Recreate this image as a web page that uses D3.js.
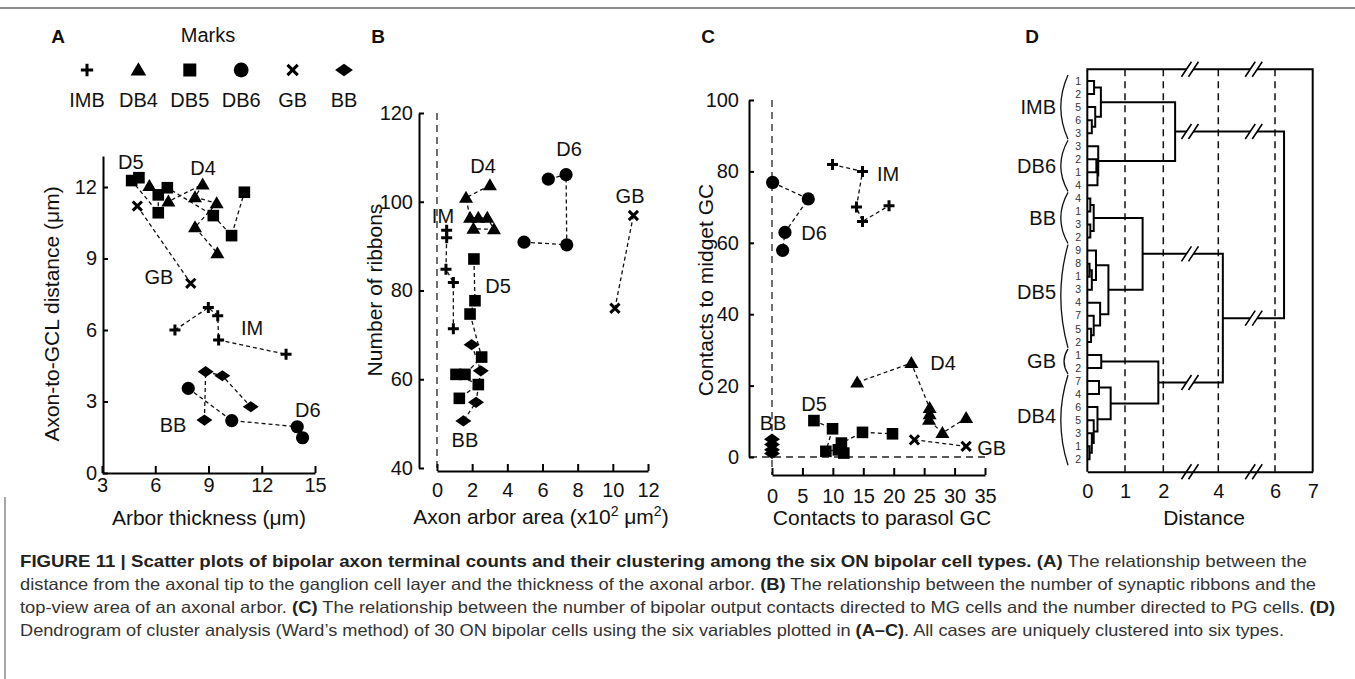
<!DOCTYPE html>
<html><head><meta charset="utf-8">
<script src="https://cdn.jsdelivr.net/npm/d3@7"></script>
<style>
body{margin:0;background:#fff}
svg{display:block}
</style>
</head><body>
<svg id="fig" width="1355" height="679"></svg>
<script>
// ---------------- DATA ----------------
const markTypes  = ["IMB","DB4","DB5","DB6","GB","BB"];
const markShapes = ["plus","triangle","square","circle","cross","diamond"];

// Panel A : arbor thickness (µm) vs axon-to-GCL distance (µm)
const aIMB = [[7.11,6.0],[8.99,6.94],[9.52,6.6],[9.57,5.58],[13.37,4.98]];
const aDB4 = [[5.67,12.04],[6.74,11.39],[8.67,12.11],[8.24,11.57],[9.46,11.32],[8.24,10.31],[9.5,9.22]];
const aDB5 = [[5.08,12.39],[4.67,12.27],[6.17,10.92],[6.17,11.67],[6.68,11.97],[9.27,10.8],[10.3,9.96],[11.02,11.78]];
const aDB6 = [[7.86,3.55],[10.31,2.2],[14.0,1.94],[14.3,1.48]];
const aGB  = [[4.99,11.2],[8.0,7.96]];
const aBB  = [[8.77,2.22],[8.84,4.25],[9.78,4.08],[11.38,2.78]];
const aLabels = [["D5",4.62,13.06],["D4",8.69,12.8],["GB",6.21,8.22],["IM",11.45,6.08],["BB",7.0,2.01],["D6",14.6,2.64]];
const aXTicks = [3,6,9,12,15];
const aYTicks = [0,3,6,9,12];

// Panel B : axon arbor area (x10^2 µm^2) vs number of ribbons
const bIMB = [[0.55,93.6],[0.55,91.9],[0.51,84.8],[0.93,81.8],[0.93,71.4]];
const bDB4 = [[3.01,103.7],[1.65,100.9],[1.88,96.4],[2.35,96.4],[2.86,96.4],[3.24,93.8],[2.07,93.9]];
const bDB5 = [[2.1,87.1],[2.16,77.7],[1.88,74.7],[2.54,65.0],[1.59,61.1],[1.08,61.1],[2.35,58.8],[1.27,55.7]];
const bDB6 = [[4.95,90.9],[7.38,90.3],[7.34,106.1],[6.33,105.1]];
const bGB  = [[11.17,96.9],[10.12,76.0]];
const bBB  = [[1.97,67.8],[2.49,61.9],[2.22,54.8],[1.5,50.6]];
const bLabels = [["D4",2.62,108.1],["D6",7.51,111.9],["GB",10.98,101.4],["IM",0.34,96.9],["D5",3.47,81.0],["BB",1.59,46.3]];
const bXTicks = [0,2,4,6,8,10,12];
const bYTicks = [40,60,80,100,120];

// Panel C : contacts to parasol GC vs contacts to midget GC
const cIMB = [[9.95,81.9],[14.87,80.0],[13.88,70.0],[14.87,66.0],[19.23,70.4]];
const cDB4 = [[14.0,20.9],[22.9,26.3],[25.9,13.7],[25.9,12.0],[25.8,10.4],[28.0,6.7],[31.9,10.9]];
const cDB5 = [[6.89,10.2],[9.95,7.9],[8.85,1.6],[10.9,2.0],[11.8,1.1],[11.4,3.9],[14.87,6.9],[19.8,6.5]];
const cDB6 = [[0.1,76.9],[5.96,72.3],[2.13,62.9],[1.75,57.9]];
const cGB  = [[23.4,4.8],[31.9,3.0]];
const cBB  = [[0,5.0],[0,3.5],[0,2.0],[0,1.0]];
const cLabels = [["IM",19.06,79.4],["D6",6.9,62.8],["D4",28.1,26.4],["D5",6.9,14.9],["BB",0.16,9.6],["GB",36.1,2.6]];
const cXTicks = [0,5,10,15,20,25,30,35];
const cYTicks = [0,20,40,60,80,100];

// Panel D : dendrogram (Ward's method)
const dGroups     = ["IMB","DB6","BB","DB5","GB","DB4"];
const dGroupSizes = [5,4,4,8,2,7];
const dLeafLabels = ["1","2","5","6","3", "3","2","1","4", "4","1","3","2",
                     "9","8","1","3","4","7","5","2", "1","2", "7","4","6","5","3","1","2"];
// merges: [childA, childB, distance]; leaves 0..29, new nodes numbered from 30
const dMerges = [
  [0,1,0.18],[3,4,0.12],[2,31,0.21],[30,32,0.36],
  [6,7,0.24],[34,8,0.27],[5,35,0.29],
  [33,36,2.43],
  [9,10,0.08],[11,12,0.08],[38,39,0.17],
  [14,15,0.06],[41,16,0.12],[13,42,0.23],[19,20,0.10],[18,44,0.17],[17,45,0.34],[43,46,0.56],
  [40,47,1.46],
  [21,22,0.37],
  [23,24,0.31],[28,29,0.06],[27,51,0.12],[26,52,0.17],[25,53,0.27],[50,54,0.62],
  [49,55,1.87],
  [48,56,4.16],
  [37,57,6.24]
];
const dTicks  = [0,1,2,4,6,7];
const dGrid   = [1,2,4,6];
const dBreaks = [2.97,5.25];

const captionLines = [
  [["FIGURE 11 | Scatter plots of bipolar axon terminal counts and their clustering among the six ON bipolar cell types.",1],[" ",0],["(A)",1],[" The relationship between the",0]],
  [["distance from the axonal tip to the ganglion cell layer and the thickness of the axonal arbor. ",0],["(B)",1],[" The relationship between the number of synaptic ribbons and the",0]],
  [["top-view area of an axonal arbor. ",0],["(C)",1],[" The relationship between the number of bipolar output contacts directed to MG cells and the number directed to PG cells. ",0],["(D)",1]],
  [["Dendrogram of cluster analysis (Ward\u2019s method) of 30 ON bipolar cells using the six variables plotted in ",0],["(A\u2013C)",1],[". All cases are uniquely clustered into six types.",0]]
];

// ---------------- DRAWING ----------------
const FONT = "'Liberation Sans', Arial, Helvetica, sans-serif";
const svg = d3.select("#fig");
svg.append("rect").attr("width",1355).attr("height",679).attr("fill","#fff");

function mark(g, shape, x, y, s){
  s = s || 1;
  if (shape === "plus") {
    const a = 5.5*s;
    g.append("path").attr("d",`M${x-a},${y}H${x+a}M${x},${y-a}V${y+a}`).attr("stroke","#000").attr("stroke-width",3);
  } else if (shape === "cross") {
    const a = 4.6*s;
    g.append("path").attr("d",`M${x-a},${y-a}L${x+a},${y+a}M${x-a},${y+a}L${x+a},${y-a}`).attr("stroke","#000").attr("stroke-width",3);
  } else if (shape === "square") {
    const a = 5.8*s;
    g.append("rect").attr("x",x-a).attr("y",y-a).attr("width",2*a).attr("height",2*a).attr("fill","#000");
  } else if (shape === "circle") {
    g.append("circle").attr("cx",x).attr("cy",y).attr("r",6.6*s).attr("fill","#000");
  } else if (shape === "triangle") {
    g.append("path").attr("d",`M${x},${y-7*s}L${x+7*s},${y+5*s}L${x-7*s},${y+5*s}Z`).attr("fill","#000");
  } else if (shape === "diamond") {
    g.append("path").attr("d",`M${x-8*s},${y}L${x},${y-5.6*s}L${x+8*s},${y}L${x},${y+5.6*s}Z`).attr("fill","#000");
  }
}

function styleAxis(g){
  g.attr("font-family",null).attr("font-size",null);
  g.selectAll("path.domain").attr("stroke","#000").attr("stroke-width",2);
  g.selectAll(".tick line").attr("stroke","#000").attr("stroke-width",2);
  g.selectAll(".tick text").attr("font-size",20).attr("font-family",FONT).attr("fill","#111");
}

function text(x,y,t,opt){
  opt = opt || {};
  const el = svg.append("text").attr("x",x).attr("y",y).text(t)
    .attr("font-family",FONT).attr("font-size",opt.size||20).attr("fill","#111")
    .attr("text-anchor",opt.anchor||"middle").attr("dy",opt.dy==null?"0.35em":opt.dy);
  if (opt.weight) el.attr("font-weight",opt.weight);
  if (opt.rotate) el.attr("transform",`rotate(-90,${x},${y})`);
  return el;
}

function scatter(series, labels, xs, ys){
  const g = svg.append("g");
  series.forEach((pts,i)=>{
    const line = d3.line().x(d=>xs(d[0])).y(d=>ys(d[1]));
    g.append("path").attr("d",line(pts)).attr("fill","none").attr("stroke","#111")
      .attr("stroke-width",1.3).attr("stroke-dasharray","4,3");
  });
  series.forEach((pts,i)=>{
    pts.forEach(p=>mark(g, markShapes[i], xs(p[0]), ys(p[1])));
  });
  labels.forEach(l=>text(xs(l[1]), ys(l[2]), l[0], {size:20}));
}

// frame line at top and caption bar
svg.append("line").attr("x1",0).attr("x2",1355).attr("y1",8).attr("y2",8).attr("stroke","#666").attr("stroke-width",1.5);
svg.append("line").attr("x1",5).attr("x2",5).attr("y1",497).attr("y2",679).attr("stroke","#888").attr("stroke-width",1.5);

// panel letters
text(58,36,"A",{weight:"bold",size:19});
text(378,36,"B",{weight:"bold",size:19});
text(708,36,"C",{weight:"bold",size:19});
text(1032,36,"D",{weight:"bold",size:19});

// legend
text(208,35,"Marks",{size:20});
markTypes.forEach((m,i)=>{
  const x = 87 + i*51.4;
  mark(svg, markShapes[i], x, 70, 1.12);
  text(x, 100, m, {size:20});
});

// ---- Panel A
const ax = d3.scaleLinear().domain([3,15]).range([102,315]);
const ay = d3.scaleLinear().domain([0,12]).range([473,187]);
const ayAxis = d3.scaleLinear().domain([0,13.3]).range([473,ay(13.3)]);
svg.append("g").attr("transform","translate(103,0)")
  .call(d3.axisLeft(ayAxis).tickValues(aYTicks).tickSize(-5).tickSizeOuter(0).tickPadding(6)).call(styleAxis);
svg.append("g").attr("transform","translate(0,473)")
  .call(d3.axisBottom(ax).tickValues(aXTicks).tickSize(-7).tickSizeOuter(0).tickPadding(5)).call(styleAxis);
scatter([aIMB,aDB4,aDB5,aDB6,aGB,aBB], aLabels, ax, ay);
text(209,518,"Arbor thickness (\u03bcm)",{size:21});
text(52,314,"Axon-to-GCL distance (\u03bcm)",{size:21,rotate:true});

// ---- Panel B
const bx = d3.scaleLinear().domain([0,12]).range([437,648]);
const by = d3.scaleLinear().domain([40,120]).range([468,113]);
svg.append("line").attr("x1",bx(0)).attr("x2",bx(0)).attr("y1",by(120)).attr("y2",471)
  .attr("stroke","#222").attr("stroke-width",1.3).attr("stroke-dasharray","7,5");
svg.append("g").attr("transform","translate(419,0)")
  .call(d3.axisLeft(by).tickValues(bYTicks).tickSize(-5).tickSizeOuter(0).tickPadding(6)).call(styleAxis);
svg.append("g").attr("transform","translate(0,471)")
  .call(d3.axisBottom(bx).tickValues(bXTicks).tickSize(-7).tickSizeOuter(0).tickPadding(12)).call(styleAxis);
scatter([bIMB,bDB4,bDB5,bDB6,bGB,bBB], bLabels, bx, by);
const bt = svg.append("text").attr("x",541).attr("y",524).attr("text-anchor","middle")
  .attr("font-family",FONT).attr("font-size",21).attr("fill","#111");
bt.append("tspan").text("Axon arbor area (x10");
bt.append("tspan").text("2").attr("font-size",14).attr("dy",-8);
bt.append("tspan").text(" \u03bcm").attr("dy",8);
bt.append("tspan").text("2").attr("font-size",14).attr("dy",-8);
bt.append("tspan").text(")").attr("dy",8);
text(375,290,"Number of ribbons",{size:21,rotate:true});

// ---- Panel C
const cx = d3.scaleLinear().domain([0,35]).range([772,985]);
const cy = d3.scaleLinear().domain([0,100]).range([457,100]);
svg.append("line").attr("x1",cx(0)).attr("x2",cx(0)).attr("y1",cy(100)).attr("y2",475)
  .attr("stroke","#222").attr("stroke-width",1.3).attr("stroke-dasharray","7,5");
svg.append("line").attr("x1",750).attr("x2",cx(35)).attr("y1",cy(0)).attr("y2",cy(0))
  .attr("stroke","#222").attr("stroke-width",1.3).attr("stroke-dasharray","7,5");
svg.append("g").attr("transform","translate(749,0)")
  .call(d3.axisLeft(cy).tickValues(cYTicks).tickSize(-5).tickSizeOuter(0).tickPadding(10)).call(styleAxis);
svg.append("g").attr("transform","translate(0,475)")
  .call(d3.axisBottom(cx).tickValues(cXTicks).tickSize(-7).tickSizeOuter(0).tickPadding(14)).call(styleAxis);
scatter([cIMB,cDB4,cDB5,cDB6,cGB,cBB], cLabels, cx, cy);
text(882,518,"Contacts to parasol GC",{size:21});
text(706,290,"Contacts to midget GC",{size:21,rotate:true});

// ---- Panel D : dendrogram
const dx = d3.scaleLinear().domain([0,1,2,4,6,7]).range([1087.3,1125,1163.3,1218.3,1275,1312.7]);
const leafY = d3.scaleLinear().domain([0,29]).range([81,459.3]);
const dTop = 69.3, dBot = 471.7;
const dg = svg.append("g");
dGrid.forEach(v=>{
  dg.append("line").attr("x1",dx(v)).attr("x2",dx(v)).attr("y1",dTop).attr("y2",dBot)
    .attr("stroke","#111").attr("stroke-width",1.5).attr("stroke-dasharray","7,5");
});
const nodes = dLeafLabels.map((l,i)=>({x:dx(0), y:leafY(i)}));
const hsegs = [];
const tree = d3.path();
dMerges.forEach(m=>{
  const a = nodes[m[0]], b = nodes[m[1]], x = dx(m[2]);
  tree.moveTo(a.x,a.y); tree.lineTo(x,a.y); tree.lineTo(x,b.y); tree.lineTo(b.x,b.y);
  hsegs.push([a.x,x,a.y],[b.x,x,b.y]);
  nodes.push({x:x, y:(a.y+b.y)/2});
});
// frame
tree.moveTo(dx(0),dBot); tree.lineTo(dx(0),dTop); tree.lineTo(dx(7),dTop); tree.lineTo(dx(7),dBot);
hsegs.push([dx(0),dx(7),dTop]);
dg.append("path").attr("d",tree.toString()).attr("fill","none").attr("stroke","#000").attr("stroke-width",2);
svg.append("g").attr("transform",`translate(0,${dBot})`)
  .call(d3.axisBottom(dx).tickValues(dTicks).tickFormat(d3.format("d")).tickSize(0).tickSizeOuter(0).tickPadding(12)).call(styleAxis);
hsegs.push([dx(0),dx(7),dBot]);
// break marks
hsegs.forEach(s=>{
  dBreaks.forEach(bv=>{
    const bxp = dx(bv);
    if (s[0] < bxp-6 && s[1] > bxp+6) {
      const y = s[2];
      dg.append("path").attr("d",`M${bxp-8.5},${y+7.5}L${bxp+1.5},${y-7.5}L${bxp+8.5},${y-7.5}L${bxp-1.5},${y+7.5}Z`)
        .attr("fill","#fff").attr("stroke","none");
      dg.append("path").attr("d",`M${bxp-8.5},${y+7.5}L${bxp+1.5},${y-7.5}M${bxp-1.5},${y+7.5}L${bxp+8.5},${y-7.5}`)
        .attr("stroke","#000").attr("stroke-width",1.6).attr("fill","none");
    }
  });
});
// leaf labels
dLeafLabels.forEach((l,i)=>{
  text(1081, leafY(i), l, {size:10.5, anchor:"end"}).attr("fill","#333");
});
// group labels + brackets
let start = 0;
dGroups.forEach((gname,i)=>{
  const n = dGroupSizes[i];
  const y0 = leafY(start)-6, y1 = leafY(start+n-1)+6, ym = (y0+y1)/2;
  const bw = n <= 2 ? 5 : 9;
  svg.append("path").attr("d",`M1068,${y0}Q${1068-bw*1.6},${ym} 1068,${y1}`)
    .attr("fill","none").attr("stroke","#111").attr("stroke-width",1.3);
  text(1056, ym-(n>6?4:0), gname, {size:20, anchor:"end"});
  start += n;
});
text(1204,518,"Distance",{size:21});

// ---- caption
const capY = [567,590,613,636];
const capLen = [1287,1296,1315,1264];
captionLines.forEach((line,i)=>{
  const t = svg.append("text").attr("x",20).attr("y",capY[i])
    .attr("font-family",FONT).attr("font-size",16.5).attr("fill","#333")
    .attr("textLength",capLen[i]).attr("lengthAdjust","spacingAndGlyphs");
  line.forEach(seg=>{
    t.append("tspan").text(seg[0]).attr("font-weight",seg[1]?"bold":"normal").attr("fill",seg[1]?"#222":"#333");
  });
});
</script>
</body></html>
